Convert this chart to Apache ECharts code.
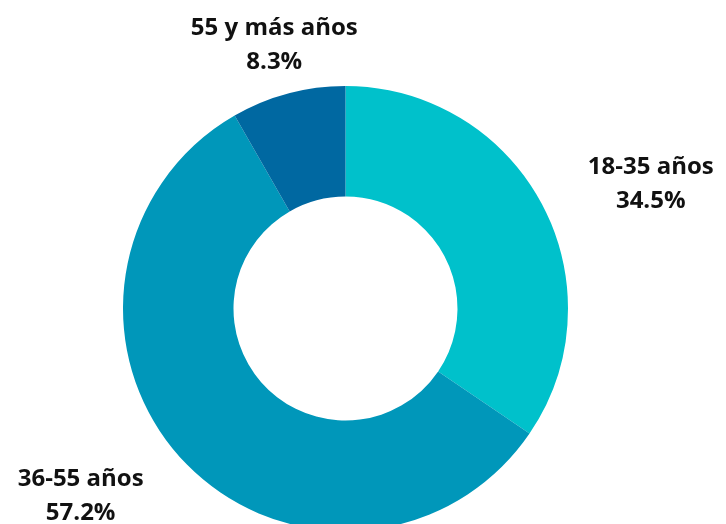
<!DOCTYPE html>
<html>
<head>
<meta charset="utf-8">
<script src="https://cdn.jsdelivr.net/npm/echarts@6/dist/echarts.min.js"></script>
<style>html,body{margin:0;padding:0;background:#fff;}#c{width:726px;height:524px;}</style>
</head>
<body>
<div id="c"></div>
<script>
const categories = ['18-35 años', '36-55 años', '55 y más años'];
const values = [34.5, 57.2, 8.3];
const colors = ['#00C1CB', '#0097BA', '#0068A1'];

const chart = echarts.init(document.getElementById('c'), null, {renderer: 'canvas'});
chart.setOption({
  animation: false,
  series: [{
    type: 'pie',
    center: [345.5, 308.5],
    radius: [112, 222.5],
    startAngle: 90,
    clockwise: true,
    avoidLabelOverlap: false,
    data: categories.map((c, i) => ({name: c, value: values[i], itemStyle: {color: colors[i]}})),
    label: {
      show: true,
      position: 'outside',
      formatter: p => p.name + '\n' + p.value.toFixed(1) + '%',
      fontFamily: 'Open Sans',
      fontWeight: 'bold',
      fontSize: 24,
      lineHeight: 34,
      color: '#111',
      distanceToLabelLine: 5
    },
    labelLine: {show: false, length: 46, length2: 0},
    labelLayout: function (p) {
      const r = p.labelRect;
      const cx = p.dataIndex === 2 ? r.x + r.width + 3 : r.x + r.width / 2;
      const dy = [1, 5, -4][p.dataIndex];
      return {x: cx, y: r.y + r.height / 2 + dy, align: 'center', verticalAlign: 'middle'};
    }
  }]
});
</script>
</body>
</html>
